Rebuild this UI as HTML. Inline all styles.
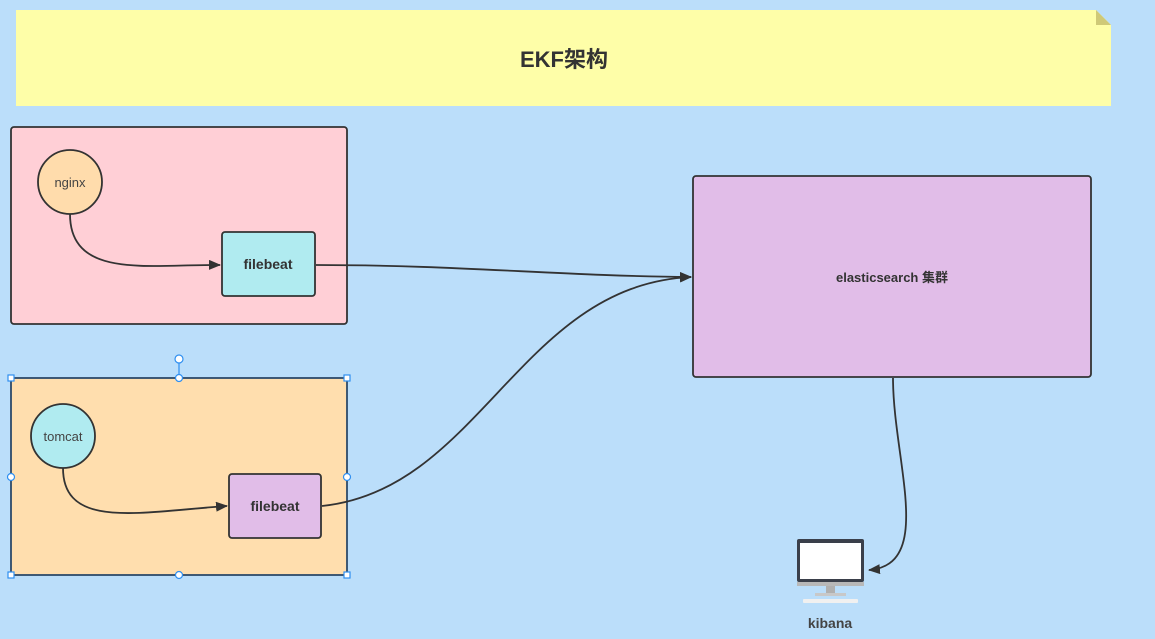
<!DOCTYPE html>
<html><head><meta charset="utf-8"><style>
html,body{margin:0;padding:0;background:#bbdefa;}
svg{display:block}
text{font-family:"Liberation Sans","Noto Sans CJK SC",sans-serif;}
</style></head><body>
<svg width="1155" height="639" viewBox="0 0 1155 639" xmlns="http://www.w3.org/2000/svg">
<defs><marker id="a" markerWidth="12" markerHeight="10" refX="11" refY="5" orient="auto" markerUnits="userSpaceOnUse"><path d="M0,0 L12,5 L0,10 Z" fill="#333"/></marker></defs>
<rect width="1155" height="639" fill="#bbdefa"/>
<path d="M16,10 H1096 L1111,25 V106 H16 Z" fill="#fefea8"/>
<path d="M1096,10 L1111,25 H1096 Z" fill="#cfc977"/>
<text x="564" y="67" font-size="22" font-weight="bold" text-anchor="middle" fill="#333">EKF架构</text>

<rect x="11" y="127" width="336" height="197" rx="3" fill="#ffcfd6" stroke="#333" stroke-width="1.8"/>
<circle cx="70" cy="182" r="32" fill="#ffdcac" stroke="#333" stroke-width="1.8"/>
<text x="70" y="187" font-size="13" text-anchor="middle" fill="#444">nginx</text>
<rect x="222" y="232" width="93" height="64" rx="3" fill="#b0ebf0" stroke="#333" stroke-width="1.8"/>
<text x="268" y="269" font-size="14" font-weight="bold" text-anchor="middle" fill="#333">filebeat</text>
<path d="M70,214 C70,280 150,264 220,265" fill="none" stroke="#333" stroke-width="1.8" marker-end="url(#a)"/>

<rect x="11" y="378" width="336" height="197" fill="#ffdeae" stroke="#2d4a6a" stroke-width="1.8"/>
<circle cx="63" cy="436" r="32" fill="#b0ebf0" stroke="#333" stroke-width="1.8"/>
<text x="63" y="441" font-size="13" text-anchor="middle" fill="#444">tomcat</text>
<rect x="229" y="474" width="92" height="64" rx="3" fill="#e1bde8" stroke="#333" stroke-width="1.8"/>
<text x="275" y="511" font-size="14" font-weight="bold" text-anchor="middle" fill="#333">filebeat</text>
<path d="M63,468 C63,530 140,512 227,506" fill="none" stroke="#333" stroke-width="1.8" marker-end="url(#a)"/>
<g fill="#fff" stroke="#2f8ff0" stroke-width="1.2">
<line x1="179" y1="359" x2="179" y2="378"/>
<circle cx="179" cy="359" r="4"/>
<rect x="8" y="375" width="6" height="6"/><rect x="344" y="375" width="6" height="6"/>
<rect x="8" y="572" width="6" height="6"/><rect x="344" y="572" width="6" height="6"/>
<circle cx="179" cy="378" r="3.5"/><circle cx="179" cy="575" r="3.5"/>
<circle cx="11" cy="477" r="3.5"/><circle cx="347" cy="477" r="3.5"/>
</g>

<rect x="693" y="176" width="398" height="201" rx="3" fill="#e1bde8" stroke="#333" stroke-width="1.8"/>
<text x="892" y="282" font-size="13" font-weight="bold" text-anchor="middle" fill="#333">elasticsearch 集群</text>

<path d="M316,265 C460,265 560,276 691,277" fill="none" stroke="#333" stroke-width="1.8" marker-end="url(#a)"/>
<path d="M322,506 C480,490 520,285 691,277" fill="none" stroke="#333" stroke-width="1.8" marker-end="url(#a)"/>
<path d="M893,378 C893,460 935,565 869,570" fill="none" stroke="#333" stroke-width="1.8" marker-end="url(#a)"/>

<rect x="797" y="539" width="67" height="43" rx="2" fill="#3a3f4a"/>
<rect x="800" y="543" width="61" height="36" fill="#fff"/>
<rect x="797" y="582" width="67" height="4" fill="#b8b8b8"/>
<rect x="826" y="586" width="9" height="7" fill="#b0b0b0"/>
<rect x="803" y="599" width="55" height="4" rx="1" fill="#f0f0f0"/>
<rect x="815" y="593" width="31" height="3" fill="#c8c8c8"/>
<text x="830" y="628" font-size="14" font-weight="bold" text-anchor="middle" fill="#444">kibana</text>
</svg>
</body></html>
